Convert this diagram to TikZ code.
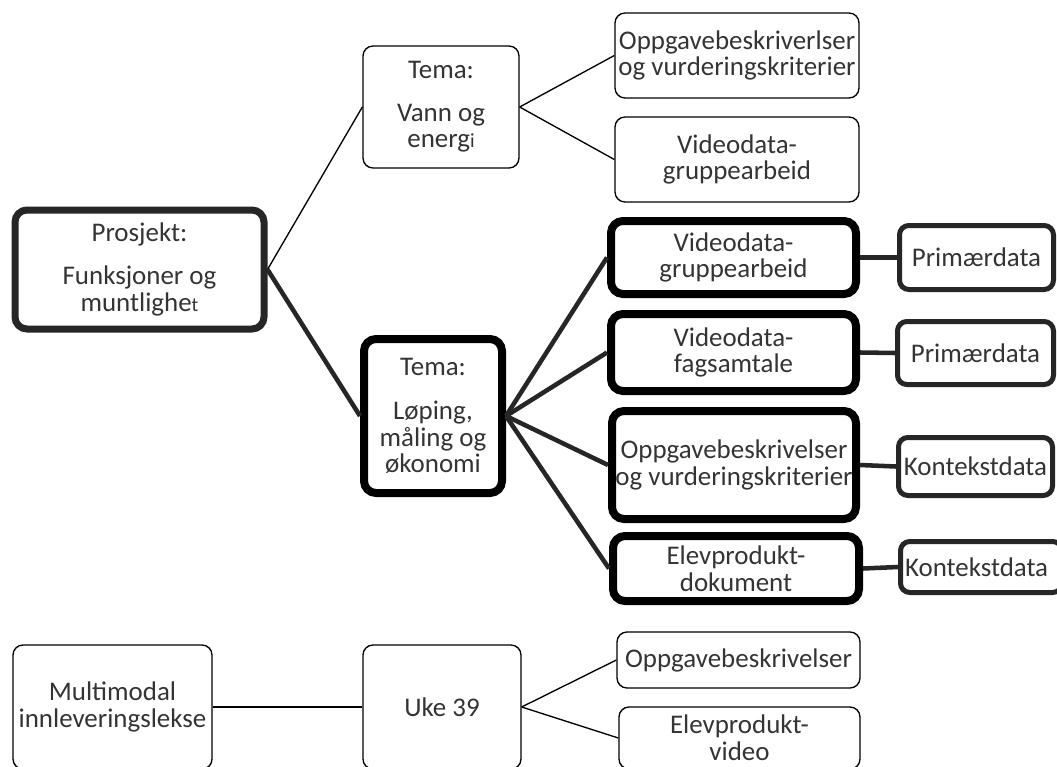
\documentclass[tikz,border=0pt]{standalone}
\usepackage{fontspec}
\setmainfont{Carlito}
\usetikzlibrary{fit}
\definecolor{txt}{RGB}{52,52,52}
\definecolor{dk}{RGB}{38,38,38}
\begin{document}
\begin{tikzpicture}[x=0.75pt,y=-0.75pt,
  base/.style={inner sep=0pt},
  lbl/.style={inner sep=0pt, align=center, text=txt,
    font=\fontsize{20.2}{20}\selectfont},
  thinbox/.style={base, draw=black, line width=1pt, rounded corners=7.5pt},
  heavybox/.style={base, draw=black, line width=6pt, rounded corners=9pt},
  grayheavy/.style={base, draw=dk, line width=5.25pt, rounded corners=9pt},
  databox/.style={base, draw=dk, line width=3.75pt, rounded corners=7pt},
  thinline/.style={draw=black, line width=1pt},
  thickline/.style={draw=dk, line width=3.4pt}]
\path[use as bounding box, clip] (0,0) rectangle (1057,767);
\fill[white] (0,0) rectangle (1057,767);

% boxes
\node[grayheavy, fit={(15,210)(264,329)}] (P) {};
\node[thinbox, fit={(363,46)(519,168)}] (V) {};
\node[thinbox, fit={(615,13)(859,98)}] (O1) {};
\node[thinbox, fit={(615,117)(859,202)}] (G1) {};
\node[heavybox, fit={(364,339)(502,493)}] (L) {};
\node[heavybox, fit={(611,221)(856,294)}] (R1) {};
\node[heavybox, fit={(611,314)(856,391)}] (R2) {};
\node[heavybox, fit={(612,411)(856,519)}] (R3) {};
\node[heavybox, fit={(613,536)(859,601)}] (R4) {};
\node[databox, fit={(899.5,225.5)(1053.5,289.5)}] (D1) {};
\node[databox, fit={(897.5,321.5)(1053.5,384.5)}] (D2) {};
\node[databox, fit={(898.5,437.5)(1052.5,495.5)}] (D3) {};
\node[databox, fit={(900.5,541.5)(1062,592.5)}] (D4) {};
\node[thinbox, fit={(13,645)(212,769)}] (M) {};
\node[thinbox, fit={(363,645)(521,769)}] (U) {};
\node[thinbox, fit={(617,632)(860,688)}] (O2) {};
\node[thinbox, fit={(619,707)(860,769)}] (E2) {};

% texts
\node[lbl] (Pt) at (P.center) {Prosjekt:\\[12pt]Funksjoner og\\muntlighe{\fontsize{15}{15}\selectfont t}};
\node[lbl] (Vt) at (V.center) {Tema:\\[12pt]Vann og\\energ{\fontsize{15}{15}\selectfont i}};
\node[lbl] (O1t) at (O1.center) {Oppgavebeskriverlser\\og vurderingskriterier};
\node[lbl] (G1t) at (G1.center) {Videodata-\\gruppearbeid};
\node[lbl] (Lt) at (L.center) {Tema:\\[13pt]Løping,\\måling og\\økonomi};
\node[lbl] (R1t) at (R1.center) {Videodata-\\gruppearbeid};
\node[lbl] (R2t) at (R2.center) {Videodata-\\fagsamtale};
\node[lbl] (R3t) at (R3.center) {Oppgavebeskrivelser\\og vurderingskriterier};
\node[lbl] (R4t) at (R4.center) {Elevprodukt-\\dokument};
\node[lbl] (D1t) at (D1.center) {Primærdata};
\node[lbl] (D2t) at (D2.center) {Primærdata};
\node[lbl] (D3t) at (D3.center) {Kontekstdata};
\node[lbl] (D4t) at ([xshift=-3.5pt]D4.center) {Kontekstdata};
\node[lbl] (Mt) at (M.center) {Multimodal\\innleveringslekse};
\node[lbl] (Ut) at (U.center) {Uke 39};
\node[lbl] (O2t) at (O2.center) {Oppgavebeskrivelser};
\node[lbl] (E2t) at (E2.center) {Elevprodukt-\\video};

% connectors
\draw[thinline] (P.east) -- (V.west);
\draw[thickline] (P.east) -- (L.west);
\draw[thinline] (V.east) -- (O1.west);
\draw[thinline] (V.east) -- (G1.west);
\draw[thickline] (L.east) -- (R1.west);
\draw[thickline] (L.east) -- (R2.west);
\draw[thickline] (L.east) -- (R3.west);
\draw[thickline] (L.east) -- (R4.west);
\draw[thickline] (R1.east) -- (D1.west);
\draw[thickline] (R2.east) -- (D2.west);
\draw[thickline] (R3.east) -- (D3.west);
\draw[thickline] (R4.east) -- (D4.west);
\draw[thinline] (M.east) -- (U.west);
\draw[thinline] (U.east) -- (O2.west);
\draw[thinline] (U.east) -- (E2.west);
\end{tikzpicture}
\end{document}
